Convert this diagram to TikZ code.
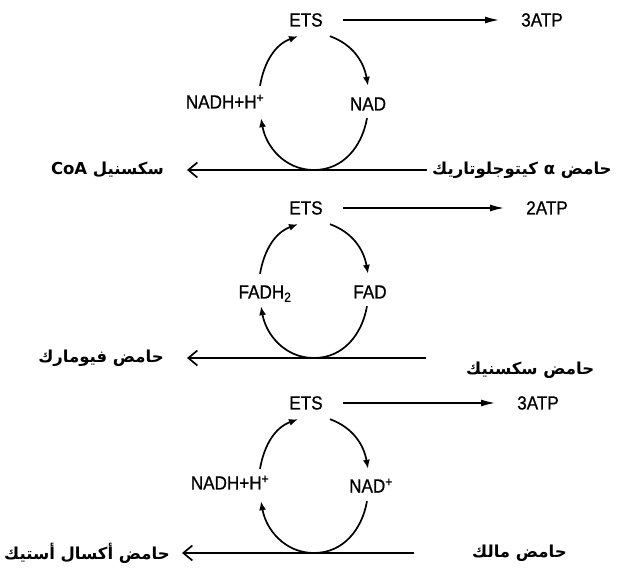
\documentclass[tikz,border=0pt]{standalone}
\usepackage{fontspec}
\setmainfont{Liberation Sans}[FakeStretch=0.9, FakeBold=0.8]
\newfontfamily\arabicfont[Script=Arabic]{DejaVu Sans}
\TeXXeTstate=1
\usepackage{tikz}
\usetikzlibrary{arrows.meta}

\tikzset{
  lbl/.style={font=\fontsize{19}{21}\selectfont, inner sep=0pt, text height=13pt, text depth=0pt},
  acid/.style={font=\arabicfont\bfseries\fontsize{16.5}{19}\selectfont, inner sep=0pt},
  flow/.style={line width=1.7pt, -{Straight Barb[length=9pt,width=15pt]}},
  atparrow/.style={line width=1.5pt, -{Latex[length=14pt,width=7pt]}, shorten <=20pt, shorten >=22pt},
  cyc/.style={line width=1.7pt, -{Latex[length=9pt,width=7pt]}}
}

\begin{document}
\begin{tikzpicture}[x=1pt, y=1pt]
	\useasboundingbox (0,0) rectangle (627,571);
	\begin{scope}[yshift=401]
	\node[lbl] (ets1) at (306,150) {ETS};
	\node[lbl] (atp1) at (542,150) {3ATP};
	\node[lbl] (nadh1) at (225,68) {NADH+H\textsuperscript{+}};
	\node[lbl] (nad1) at (368,66) {NAD};
	\node[acid, anchor=east] (scoa) at (164,0) {\beginR سكسنيل \beginL CoA\endL\endR};
	\node[acid, anchor=west] (akg) at (432,0) {\beginR حامض α كيتوجلوتاريك\endR};
	\coordinate (in1) at (427,0);
	\coordinate (bot1) at (314,0);
	\draw[flow, shorten >=23pt] (in1) -- (scoa);
	\draw[atparrow] (ets1) -- (atp1);
	\draw[cyc] ([shift={(35,9.5)}]nadh1.north) to[out=80,in=200] ([shift={(-8,-9.5)}]ets1.south);
	\draw[cyc] ([shift={(24,-9.5)}]ets1.south) to[out=-20,in=100] ([shift={(0,11.5)}]nad1.north);
	\draw[cyc] (bot1) to[out=180,in=-80] ([shift={(36,-9.5)}]nadh1.south);
	\draw[line width=1.7pt] ([shift={(-1,-7.5)}]nad1.south) to[out=-100,in=0] (bot1);
	\end{scope}
	\begin{scope}[yshift=213]
	\node[lbl] (ets2) at (306,150) {ETS};
	\node[lbl] (atp2) at (547,150) {2ATP};
	\node[lbl] (fadh2) at (265,66) {FADH\textsubscript{2}};
	\node[lbl] (fad2) at (370,66) {FAD};
	\node[acid, anchor=east] (fum) at (164,0) {\beginR حامض فيومارك\endR};
	\node[acid, anchor=west] (succ) at (466,-12) {\beginR حامض سكسنيك\endR};
	\coordinate (in2) at (426,0);
	\coordinate (bot2) at (314,0);
	\draw[flow, shorten >=23pt] (in2) -- (fum);
	\draw[atparrow] (ets2) -- (atp2);
	\draw[cyc] ([shift={(-5,11.5)}]fadh2.north) to[out=80,in=200] ([shift={(-8,-9.5)}]ets2.south);
	\draw[cyc] ([shift={(24,-9.5)}]ets2.south) to[out=-20,in=100] ([shift={(-2,11.5)}]fad2.north);
	\draw[cyc] (bot2) to[out=180,in=-80] ([shift={(-4,-7.5)}]fadh2.south);
	\draw[line width=1.7pt] ([shift={(-3,-7.5)}]fad2.south) to[out=-100,in=0] (bot2);
	\end{scope}
	\begin{scope}[yshift=18]
	\node[lbl] (ets3) at (306,150) {ETS};
	\node[lbl] (atp3) at (538,150) {3ATP};
	\node[lbl] (nadh3) at (230,70) {NADH+H\textsuperscript{+}};
	\node[lbl] (nad3) at (371,67) {NAD\textsuperscript{+}};
	\node[acid, anchor=east] (oxa) at (170,0) {\beginR حامض أكسال أستيك\endR};
	\node[acid, anchor=west] (mal) at (472,0) {\beginR حامض مالك\endR};
	\coordinate (in3) at (414,0);
	\coordinate (bot3) at (314,0);
	\draw[flow, shorten >=12pt] (in3) -- (oxa);
	\draw[atparrow] (ets3) -- (atp3);
	\draw[cyc] ([shift={(30,7.5)}]nadh3.north) to[out=80,in=200] ([shift={(-8,-9.5)}]ets3.south);
	\draw[cyc] ([shift={(24,-9.5)}]ets3.south) to[out=-20,in=100] ([shift={(-3,10.5)}]nad3.north);
	\draw[cyc] (bot3) to[out=180,in=-80] ([shift={(31,-11.5)}]nadh3.south);
	\draw[line width=1.7pt] ([shift={(-4,-8.5)}]nad3.south) to[out=-100,in=0] (bot3);
	\end{scope}
\end{tikzpicture}
\end{document}
